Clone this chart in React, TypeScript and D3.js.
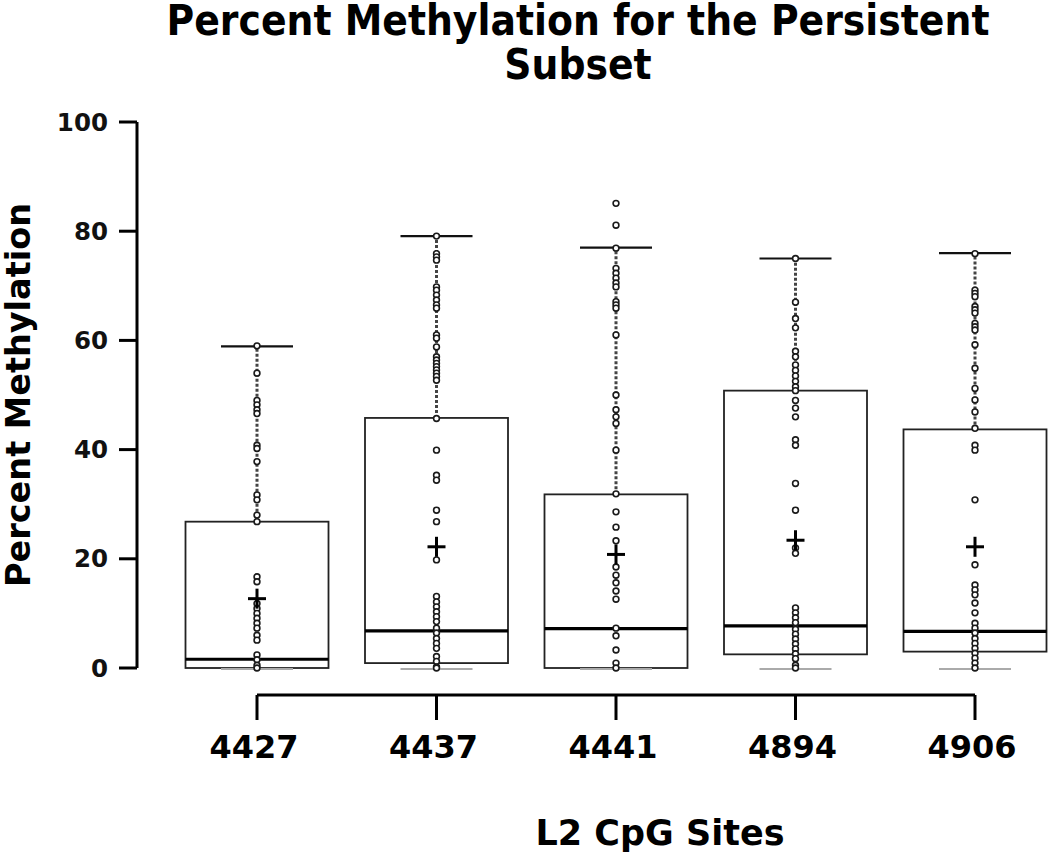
import React from "react";
import * as d3 from "d3";

const categories = ["4427", "4437", "4441", "4894", "4906"];
const q1 = [0, 0.9, 0, 2.5, 3.0];
const median = [1.6, 6.8, 7.2, 7.7, 6.7];
const q3 = [26.8, 45.8, 31.8, 50.8, 43.7];
const whiskerHigh = [58.9, 79.1, 77.0, 75.0, 76.0];
const whiskerLow = [0, 0, 0, 0, 0];
const means = [12.7, 22.2, 20.8, 23.4, 22.2];

const p4427 = [59, 54, 49, 48.2, 47.3, 46.6, 40.8, 40.2, 37.8, 31.7, 30.8, 28, 26.8, 16.7, 15.8, 11.8, 10.9, 10, 9.1, 8.2, 7.3, 6, 5.1, 2.4, 1.5, 0.5, 0];
const p4437 = [79.1, 75.9, 75.3, 74.7, 69.8, 69.2, 68.3, 67.4, 66.5, 65.9, 61, 60.4, 58.8, 57, 56.4, 55.8, 55.2, 54.6, 54, 53.4, 52.7, 45.7, 39.9, 35.3, 34.4, 28.9, 26.8, 19.8, 13.1, 12.1, 11.2, 10.3, 9.4, 8.5, 7.3, 6.4, 5.4, 4.5, 3.6, 2.1, 1.2, 0.2, 0];
const p4441 = [85.1, 81.1, 76.9, 73.2, 72.3, 71.4, 70.5, 69.8, 67.1, 66.5, 65.9, 61, 50, 47.3, 46, 44.8, 39.9, 31.9, 28.6, 25.8, 23.3, 18.5, 17, 15.6, 14.1, 12.6, 7.3, 5.9, 3.3, 0.9, 0];
const p4894 = [75, 67, 64, 62.3, 58, 57, 55.5, 54.5, 53.5, 52.5, 51.5, 50.8, 49, 47.6, 46, 41.8, 40.8, 33.8, 28.9, 22, 21, 11, 10.1, 9.2, 8.3, 7.1, 6.2, 5.3, 4.4, 3.5, 2.6, 1.7, 0.5, 0];
const p4906 = [75.9, 69.2, 68.6, 68, 66.2, 65.6, 65, 63.1, 62.5, 61.9, 59.2, 54.9, 51.2, 49.1, 46.9, 43.9, 40.8, 39.9, 30.8, 18.9, 15.2, 14.3, 13.4, 11.9, 10.1, 8.2, 7.3, 6.4, 5.4, 4.5, 3.6, 2.7, 1.8, 0.9, 0];
const points = [p4427, p4437, p4441, p4894, p4906];

const yTicks = [0, 20, 40, 60, 80, 100];

const titleLines = ["Percent Methylation for the Persistent", "Subset"];
const yLabel = "Percent Methylation";
const xLabel = "L2 CpG Sites";

export default function App() {
  const W = 1050;
  const H = 857;
  const y = d3.scaleLinear().domain([0, 100]).range([668, 122]);
  const x = d3.scalePoint<string>().domain(categories).range([257, 975]);
  const boxHalf = 71.5;
  const capHalf = 36;
  const font = "'DejaVu Sans', sans-serif";
  const axisX = 137;
  const axisY = 695;

  return (
    <svg width={W} height={H} style={{ position: "absolute", left: 0, top: 0, display: "block", background: "#fff" }}>
      {/* title */}
      {titleLines.map((t, i) => (
        <text key={i} x={578} y={35 + i * 44} textAnchor="middle" fontFamily="'DejaVu Sans Condensed', 'DejaVu Sans', sans-serif" fontStretch="condensed" fontWeight="bold" fontSize={42} fill="#000">{t}</text>
      ))}

      {/* y axis */}
      <line x1={axisX} x2={axisX} y1={y(100)} y2={y(0)} stroke="#000" strokeWidth={3} />
      {yTicks.map((t) => (
        <g key={t}>
          <line x1={axisX - 18} x2={axisX} y1={y(t)} y2={y(t)} stroke="#000" strokeWidth={3} />
          <text x={108} y={y(t) + 8.5} textAnchor="end" fontFamily={font} fontWeight="bold" fontSize={24.5} fill="#111">{t}</text>
        </g>
      ))}
      <text transform={`translate(30, ${(y(0) + y(100)) / 2}) rotate(-90)`} textAnchor="middle" fontFamily={font} fontWeight="bold" fontSize={33.5} fill="#000">{yLabel}</text>

      {/* x axis */}
      <line x1={x(categories[0])} x2={x(categories[categories.length - 1])} y1={axisY} y2={axisY} stroke="#000" strokeWidth={3} />
      {categories.map((c) => (
        <g key={c}>
          <line x1={x(c)} x2={x(c)} y1={axisY} y2={axisY + 25} stroke="#000" strokeWidth={3} />
          <text x={x(c)! - 3} y={758} textAnchor="middle" fontFamily={font} fontWeight="bold" fontSize={32} fill="#000">{c}</text>
        </g>
      ))}
      <text x={660} y={845} textAnchor="middle" fontFamily={font} fontWeight="bold" fontSize={35} fill="#000">{xLabel}</text>

      {/* boxes */}
      {categories.map((c, i) => {
        const cx = x(c)!;
        return (
          <g key={c}>
            <line x1={cx} x2={cx} y1={y(q3[i])} y2={y(whiskerHigh[i])} stroke="#444" strokeWidth={3} strokeDasharray="3,2" />
            <line x1={cx} x2={cx} y1={y(whiskerLow[i])} y2={y(q1[i])} stroke="#444" strokeWidth={3} strokeDasharray="3,2" />
            <rect x={cx - boxHalf} y={y(q3[i])} width={boxHalf * 2} height={y(q1[i]) - y(q3[i])} fill="none" stroke="#222" strokeWidth={1.8} />
            <line x1={cx - capHalf} x2={cx + capHalf} y1={y(whiskerHigh[i])} y2={y(whiskerHigh[i])} stroke="#111" strokeWidth={2.2} />
            <line x1={cx - capHalf} x2={cx + capHalf} y1={y(whiskerLow[i]) + 1} y2={y(whiskerLow[i]) + 1} stroke="#aaa" strokeWidth={2.2} />
            <line x1={cx - boxHalf} x2={cx + boxHalf} y1={y(median[i])} y2={y(median[i])} stroke="#000" strokeWidth={3.2} />
            {points[i].map((v, j) => (
              <circle key={j} cx={cx} cy={y(v)} r={2.9} fill="#fff" stroke="#1a1a1a" strokeWidth={1.6} />
            ))}
            <line x1={cx - 9} x2={cx + 9} y1={y(means[i])} y2={y(means[i])} stroke="#000" strokeWidth={3} />
            <line x1={cx} x2={cx} y1={y(means[i]) - 10} y2={y(means[i]) + 10} stroke="#000" strokeWidth={3} />
          </g>
        );
      })}
    </svg>
  );
}
